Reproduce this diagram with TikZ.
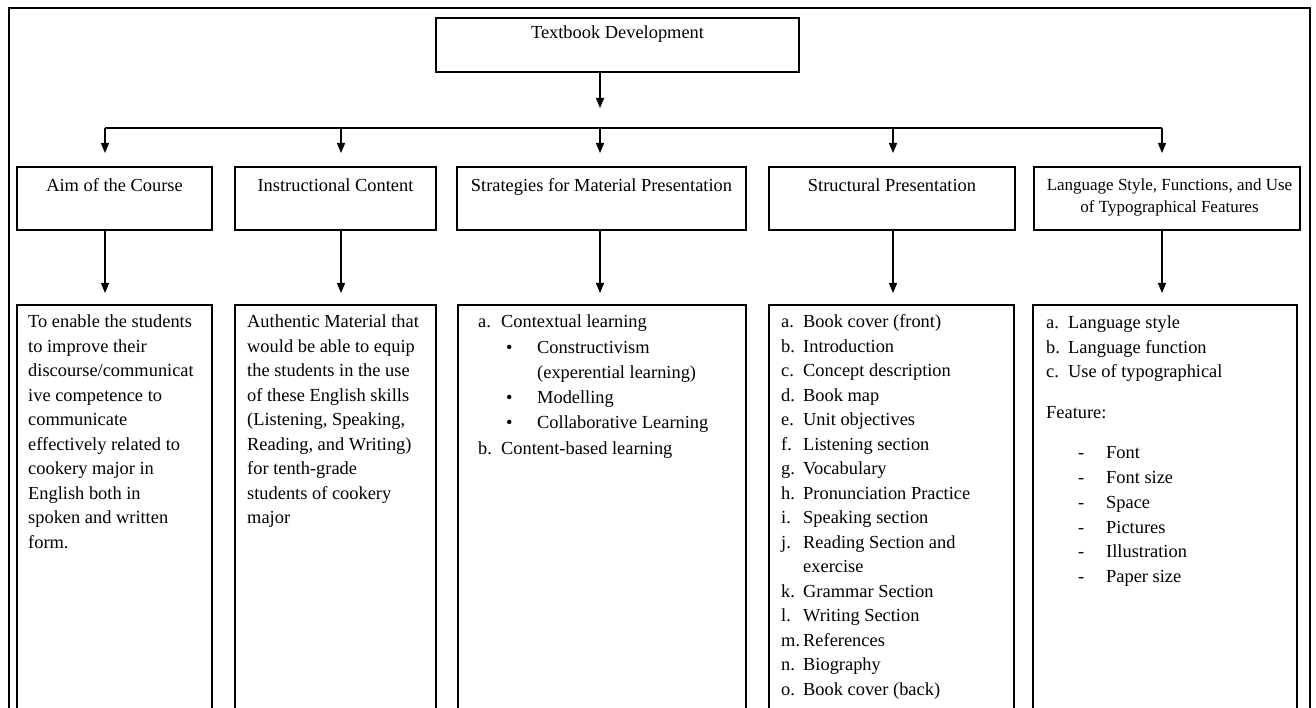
\documentclass[tikz,border=0pt]{standalone}
\usepackage{fontspec}
\setmainfont{Liberation Serif}
\usetikzlibrary{arrows.meta,calc}
\newcommand{\fz}{\fontsize{18.4}{24.5}\selectfont}
\newcommand{\lb}[1]{\makebox[22pt][l]{#1}}
\begin{document}
\begin{tikzpicture}[x=1pt,y=-1pt,
  box/.style={draw, line width=1.2pt, anchor=north west, inner sep=0pt, outer sep=0pt},
  arr/.style={line width=1.2pt, -{Triangle[width=8pt,length=10pt]}},
  conn/.style={line width=1.2pt},
  txt/.style={font=\fz, inner sep=0pt, align=left, anchor=north west},
  head/.style={font=\fz, inner sep=0pt, anchor=base},
]
\clip (0,0) rectangle (1316,708);
\fill[white] (0,0) rectangle (1316,708);
\node[box, line width=1.4pt, minimum width=1301pt, minimum height=720pt] (frame) at (9,8) {};

% top
\node[box, minimum width=363pt, minimum height=54pt] (top) at (436,18) {};
\node[head] (toptxt) at (617.5,39) {Textbook Development};

% middle boxes
\node[box, minimum width=195pt, minimum height=63pt] (aim) at (17,167) {};
\node[box, minimum width=201pt, minimum height=63pt] (instr) at (235,167) {};
\node[box, minimum width=289pt, minimum height=63pt] (strat) at (457,167) {};
\node[box, minimum width=246pt, minimum height=63pt] (struct) at (769,167) {};
\node[box, minimum width=266pt, minimum height=63pt] (lang) at (1034,167) {};

\node[head] (aimt) at ($(aim.north)+(0,25)$) {Aim of the Course};
\node[head] (instrt) at ($(instr.north)+(0,25)$) {Instructional Content};
\node[head] (stratt) at ($(strat.north)+(0,25)$) {Strategies for Material Presentation};
\node[head] (structt) at ($(struct.north)+(0,25)$) {Structural Presentation};
\node[inner sep=0pt, anchor=north, align=center, font=\fontsize{17}{22}\selectfont] (langt)
  at ($(lang.north)+(2.5,7.6)$) {\strut Language Style, Functions, and Use\\of Typographical Features};

% bottom boxes
\node[box, minimum width=195pt, minimum height=420pt] (aimb) at (17,305) {};
\node[box, minimum width=201pt, minimum height=420pt] (instrb) at (235,305) {};
\node[box, minimum width=288pt, minimum height=420pt] (stratb) at (458,305) {};
\node[box, minimum width=245pt, minimum height=420pt] (structb) at (769,305) {};
\node[box, minimum width=264pt, minimum height=420pt] (langb) at (1033,305) {};

% connectors
\coordinate (h1) at (105,128);
\coordinate (h2) at (341,128);
\coordinate (h3) at (600,128);
\coordinate (h4) at (893,128);
\coordinate (h5) at (1162,128);
\draw[conn] (h1) -- (h5);
\draw[arr, shorten >=20pt] (h3 |- top.south) -- (h3);
\foreach \c/\m/\b in {h1/aim/aimb, h2/instr/instrb, h3/strat/stratb, h4/struct/structb, h5/lang/langb}{
  \draw[arr, shorten >=14pt] (\c) -- (\c |- \m.north);
  \draw[arr, shorten >=12pt] (\c |- \m.south) -- (\c |- \b.north);
}

% bottom texts
\node[txt] (aimtxt) at (28,310.4) {\strut To enable the students\\to improve their\\discourse/communicat\\ive competence to\\communicate\\effectively related to\\cookery major in\\English both in\\spoken and written\\form.};

\node[txt] (instrtxt) at (247,310.4) {\strut Authentic Material that\\would be able to equip\\the students in the use\\of these English skills\\(Listening, Speaking,\\Reading, and Writing)\\for tenth-grade\\students of cookery\\major};

\node[txt, font=\fontsize{18.4}{25.3}\selectfont] (strattxt) at (478,309.8) {\strut\makebox[23pt][l]{a.}Contextual learning\\
\hspace*{28pt}\makebox[31pt][l]{\textbullet}Constructivism\\
\hspace*{59pt}(experential learning)\\
\hspace*{28pt}\makebox[31pt][l]{\textbullet}Modelling\\
\hspace*{28pt}\makebox[31pt][l]{\textbullet}Collaborative Learning\\
\makebox[23pt][l]{b.}Content-based learning};

\node[txt] (structtxt) at (781,310.4) {\strut\lb{a.}Book cover (front)\\
\lb{b.}Introduction\\
\lb{c.}Concept description\\
\lb{d.}Book map\\
\lb{e.}Unit objectives\\
\lb{f.}Listening section\\
\lb{g.}Vocabulary\\
\lb{h.}Pronunciation Practice\\
\lb{i.}Speaking section\\
\lb{j.}Reading Section and\\
\lb{}exercise\\
\lb{k.}Grammar Section\\
\lb{l.}Writing Section\\
\lb{m.}References\\
\lb{n.}Biography\\
\lb{o.}Book cover (back)};

\node[txt] (langtxt) at (1046,311.4) {\strut\lb{a.}Language style\\
\lb{b.}Language function\\
\lb{c.}Use of typographical};
\node[font=\fz, inner sep=0pt, anchor=base west] (feat) at (1046,418.5) {Feature:};
\node[txt, font=\fontsize{18.4}{24.8}\selectfont] (feattxt) at (1078,441.1) {\strut\makebox[28pt][l]{-}Font\\
\makebox[28pt][l]{-}Font size\\
\makebox[28pt][l]{-}Space\\
\makebox[28pt][l]{-}Pictures\\
\makebox[28pt][l]{-}Illustration\\
\makebox[28pt][l]{-}Paper size};
\end{tikzpicture}
\end{document}
